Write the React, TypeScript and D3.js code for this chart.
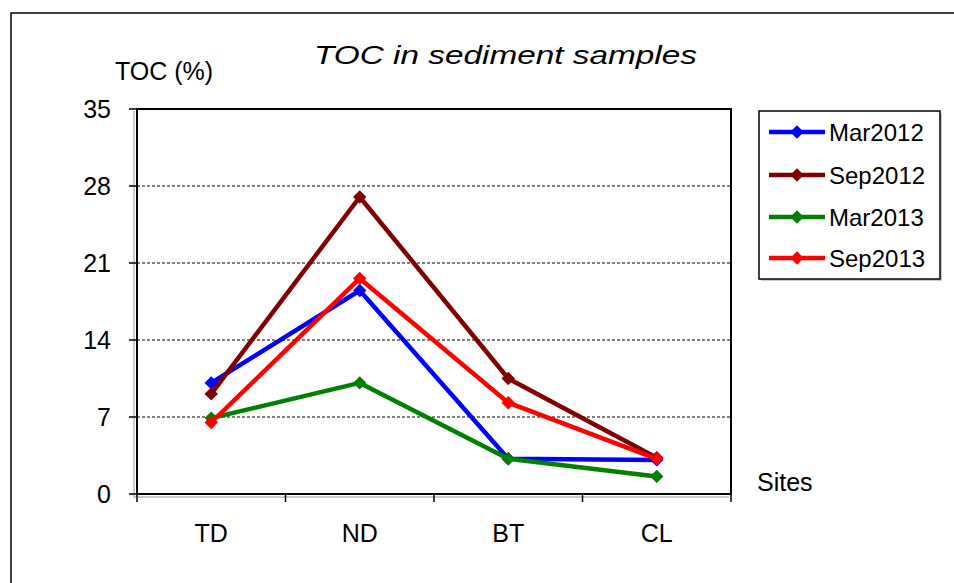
import React from "react";
import * as d3 from "d3";

const sites = ["TD", "ND", "BT", "CL"];
const seriesNames = ["Mar2012", "Sep2012", "Mar2013", "Sep2013"];
const seriesColors = ["#0000FF", "#800000", "#008000", "#FF0000"];
const mar2012 = [10.1, 18.5, 3.2, 3.1];
const sep2012 = [9.1, 27.0, 10.5, 3.3];
const mar2013 = [6.9, 10.1, 3.2, 1.6];
const sep2013 = [6.5, 19.6, 8.3, 3.2];
const yTicks = [0, 7, 14, 21, 28, 35];

const seriesValues = [mar2012, sep2012, mar2013, sep2013];
const FONT = "'Liberation Sans', Arial, sans-serif";

export default function App() {
  const left = 137, right = 731, top = 109, bottom = 494;
  const x = d3.scaleBand<string>().domain(sites).range([left, right]);
  const y = d3.scaleLinear().domain([0, 35]).range([bottom, top]);
  const line = d3
    .line<number>()
    .x((_, i) => (x(sites[i]) as number) + x.bandwidth() / 2)
    .y((v) => y(v));
  const diamond = d3.symbol().type(d3.symbolSquare).size(90)() as string;
  const boundaries = d3.range(sites.length + 1).map((i) => left + i * x.step());

  const legendX = 759, legendY = 111, legendW = 181, legendH = 168;
  const legendRows = [132, 175, 217, 258];

  return (
    <svg
      width={954}
      height={583}
      style={{ position: "absolute", left: 0, top: 0, background: "#fff" }}
      fontFamily={FONT}
    >
      <rect x={0} y={0} width={954} height={583} fill="#fff" />
      {/* outer chart border */}
      <path d="M11,600 L11,13 L960,13" fill="none" stroke="#000" strokeWidth={1.5} />

      {/* title */}
      <text
        x={314}
        y={64}
        fontSize={26}
        fontStyle="italic"
        textLength={383}
        lengthAdjust="spacingAndGlyphs"
        fill="#000"
      >
        TOC in sediment samples
      </text>
      <text x={115} y={80} fontSize={25} fill="#000">
        TOC (%)
      </text>

      {/* shadow of plot area */}
      <path
        d={`M${left - 3},${top + 2} L${left - 3},${bottom + 3} L${right - 2},${bottom + 3}`}
        fill="none"
        stroke="#ccc"
        strokeWidth={2}
      />
      {/* plot area */}
      <rect x={left} y={top} width={right - left} height={bottom - top} fill="#fff" stroke="#000" strokeWidth={2} />

      {/* gridlines */}
      {yTicks
        .filter((t) => t > 0 && t < 35)
        .map((t) => (
          <line
            key={"g" + t}
            x1={left}
            x2={right}
            y1={y(t)}
            y2={y(t)}
            stroke="#000"
            strokeWidth={1}
            strokeDasharray="3,2"
          />
        ))}

      {/* y ticks and labels */}
      {yTicks.map((t) => (
        <g key={"y" + t}>
          <line x1={left - 8} x2={left} y1={y(t)} y2={y(t)} stroke="#000" strokeWidth={1.5} />
          <text x={111} y={y(t)} fontSize={25} textAnchor="end" dominantBaseline="central" fill="#000">
            {t}
          </text>
        </g>
      ))}

      {/* x ticks */}
      {boundaries.map((b, i) => (
        <line key={"xt" + i} x1={b} x2={b} y1={bottom} y2={bottom + 8} stroke="#000" strokeWidth={1.5} />
      ))}
      {sites.map((s) => (
        <text
          key={"xl" + s}
          x={(x(s) as number) + x.bandwidth() / 2}
          y={542}
          fontSize={25}
          textAnchor="middle"
          fill="#000"
        >
          {s}
        </text>
      ))}
      <line x1={left} x2={right} y1={bottom} y2={bottom} stroke="#000" strokeWidth={2} />
      <line x1={left} x2={left} y1={top} y2={bottom} stroke="#000" strokeWidth={2} />

      <text x={757} y={491} fontSize={25} fill="#000">
        Sites
      </text>

      {/* series */}
      {seriesValues.map((vals, si) => (
        <g key={"s" + si}>
          <path d={line(vals) as string} fill="none" stroke={seriesColors[si]} strokeWidth={4.5} strokeLinejoin="round" />
          {vals.map((v, i) => (
            <path
              key={i}
              d={diamond}
              transform={`translate(${(x(sites[i]) as number) + x.bandwidth() / 2},${y(v)}) rotate(45)`}
              fill={seriesColors[si]}
            />
          ))}
        </g>
      ))}

      {/* legend */}
      <rect x={legendX + 2} y={legendY + 2} width={legendW} height={legendH} fill="#ccc" />
      <rect x={legendX} y={legendY} width={legendW} height={legendH} fill="#fff" stroke="#000" strokeWidth={1.5} />
      {seriesNames.map((n, i) => (
        <g key={"l" + n}>
          <line x1={769} x2={825} y1={legendRows[i]} y2={legendRows[i]} stroke={seriesColors[i]} strokeWidth={4.5} />
          <path d={diamond} transform={`translate(797,${legendRows[i]}) rotate(45)`} fill={seriesColors[i]} />
          <text x={829} y={legendRows[i]} fontSize={24} dominantBaseline="central" fill="#000">
            {n}
          </text>
        </g>
      ))}
    </svg>
  );
}
